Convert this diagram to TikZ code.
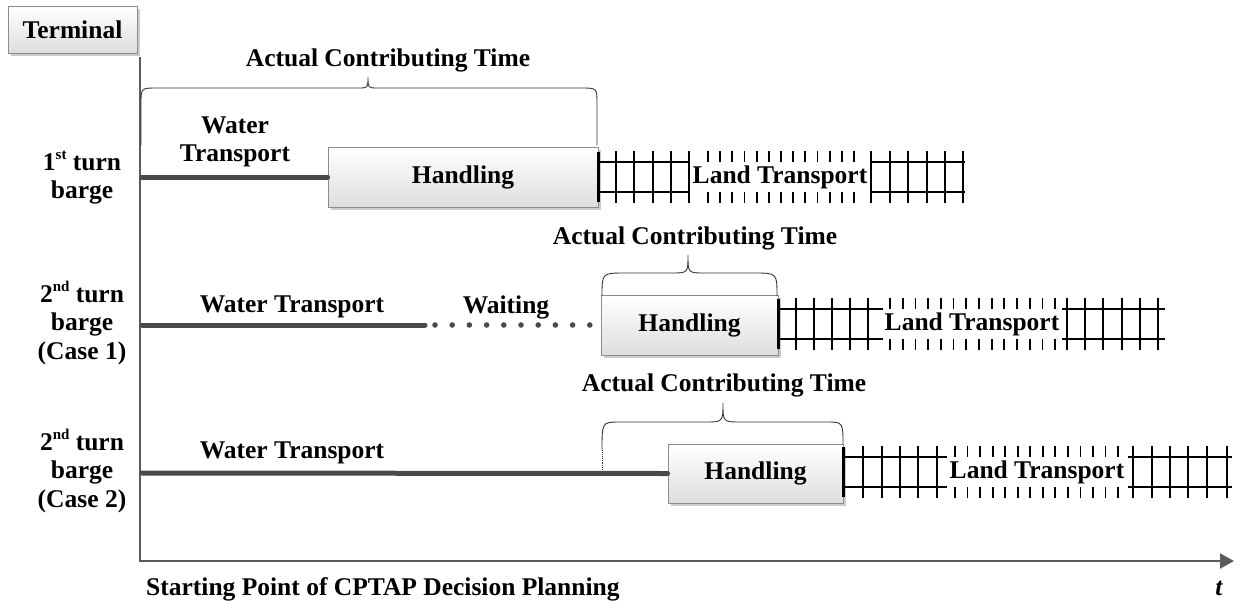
\documentclass[tikz,border=0pt]{standalone}
\usepackage{fontspec}
\setmainfont{Liberation Serif}
\usetikzlibrary{arrows.meta,shadows}
\definecolor{linegray}{HTML}{4A4A4A}
\definecolor{axisgray}{HTML}{5A5A5A}
\definecolor{boxborder}{HTML}{8C8C8C}
\definecolor{boxbottom}{HTML}{DEDEDE}
\definecolor{shadowgray}{HTML}{CCCCCC}
\definecolor{bracegray}{HTML}{333333}
\newcommand\supx[1]{\raisebox{0.42em}{\fontsize{15}{15}\selectfont #1}}
\newcommand\railsec[4]{%
  \draw[rail] (#1,#3-15) -- (#2,#3-15) (#1,#3+15) -- (#2,#3+15);
  \foreach \tx in {#4} {\draw[tie] (\tx,#3-26) -- (\tx,#3+26);}}
\newcommand\railgap[4]{%
  \foreach \tx in {#1,#2,...,#3} {\draw[tie] (\tx,#4-26) -- (\tx,#4-15) (\tx,#4+15) -- (\tx,#4+26);}}
\tikzset{
  lbl/.style={font=\fontsize{25.5}{28.5}\selectfont\bfseries, inner sep=0pt, align=center},
  procbox/.style={draw=boxborder, line width=0.8pt, top color=white, bottom color=boxbottom,
    inner sep=0pt, font=\fontsize{25.5}{28.5}\selectfont\bfseries,
    drop shadow={shadow xshift=2.5pt, shadow yshift=-2.5pt, fill=shadowgray, opacity=1}},
  water/.style={line width=5pt, draw=linegray, line cap=round},
  axisline/.style={line width=2.4pt, draw=axisgray, -{Triangle[length=14pt,width=15pt]}},
  bracepath/.style={line width=0.9pt, draw=bracegray},
  rail/.style={line width=2.2pt, draw=black},
  tie/.style={line width=1.8pt, draw=black},
  firsttie/.style={line width=3pt, draw=black},
  waitdot/.style={fill=linegray, draw=none},
}
\begin{document}
\begin{tikzpicture}[x=1pt,y=-1pt]
\useasboundingbox (0,0) rectangle (1243,606);

% terminal box and axes
\node[procbox, minimum width=129pt, minimum height=47pt] (term) at (72.5,29.5) {Terminal};
\coordinate (ytop) at (140,57);
\coordinate (origin) at (140,561);
\coordinate (xend) at (1234,561);
\draw[axisline] (ytop) -- (origin) -- (xend);
\node[lbl, anchor=west] (start) at (146,589) {Starting Point of CPTAP Decision Planning};
\node[lbl, font=\fontsize{25.5}{28.5}\selectfont\bfseries\itshape] (tlab) at (1219,588) {t};

% row labels
\node[lbl] (r1) at (82,177.5) {1\supx{st} turn\\barge};
\node[lbl] (r2) at (82,323) {2\supx{nd} turn\\barge\\(Case 1)};
\node[lbl] (r3) at (82,471) {2\supx{nd} turn\\barge\\(Case 2)};

% ---------- row 1 ----------
\node[procbox, minimum width=270pt, minimum height=60pt] (h1) at (463,177) {Handling};
\coordinate (w1) at (142,177);
\draw[water] (w1) -- (h1.west);
\node[lbl] (wt1) at (235,142) {Water\\Transport};
\draw[bracepath] (141,145) -- (141,104) .. controls (141,88) .. (157,88) -- (358,88)
  .. controls (368,88) .. (368,77) .. controls (368,88) .. (378,88) -- (581,88)
  .. controls (597,88) .. (597,104) -- (597,145);
\node[lbl] (act1) at (388,60) {Actual Contributing Time};
\draw[firsttie] (598,152) -- (598,202);
\railsec{598}{689}{177}{616,634,653,671,689}
\railgap{708}{720.17}{855}{177}
\railsec{871}{965}{177}{871,890,908,927,945,963}
\node[lbl] (lt1) at (780,177) {Land Transport};

% ---------- row 2 ----------
\node[procbox, minimum width=177pt, minimum height=60pt] (h2) at (689.5,325) {Handling};
\coordinate (w2) at (142,325);
\coordinate (w2end) at (425,325);
\draw[water] (w2) -- (w2end);
\foreach \i in {0,...,9} {\fill[waitdot] (435+17.2*\i,325) circle (2.8);}
\node[lbl] (wt2) at (292,307) {Water Transport};
\node[lbl] (wait) at (506,307) {Waiting};
\draw[bracepath] (602,296) .. controls (602,273) .. (625,273) -- (671,273)
  .. controls (688,273) .. (688,255) .. controls (688,273) .. (705,273) -- (754,273)
  .. controls (777,273) .. (777,296);
\node[lbl] (act2) at (695,238) {Actual Contributing Time};
\draw[firsttie] (778,299) -- (778,349);
\railsec{778}{883}{324}{796,814,832,850,868}
\railgap{890}{902.7}{1056}{324}
\railsec{1062}{1165}{324}{1067,1085,1103,1122,1140,1158}
\node[lbl] (lt2) at (972,324) {Land Transport};

% ---------- row 3 ----------
\node[procbox, minimum width=175pt, minimum height=59pt] (h3) at (755.5,473.5) {Handling};
\coordinate (w3) at (142,473);
\draw[water] (w3) -- (h3.west);
\node[lbl] (wt3) at (292,453) {Water Transport};
\draw[bracepath, densely dotted, line width=0.6pt] (602,470) -- (602,450);
\draw[bracepath] (602,450) .. controls (602,422) .. (620,422) -- (705,422)
  .. controls (723,422) .. (723,403) .. controls (723,422) .. (741,422) -- (826,422)
  .. controls (843,422) .. (843,445);
\node[lbl] (act3) at (724,385) {Actual Contributing Time};
\draw[firsttie] (843,447) -- (843,497);
\railsec{843}{947}{472}{863,882,900,918,937}
\railgap{955}{967.54}{1119}{472}
\railsec{1128}{1232}{472}{1133,1152,1170,1188,1207,1227}
\node[lbl] (lt3) at (1037,472) {Land Transport};
\end{tikzpicture}
\end{document}
